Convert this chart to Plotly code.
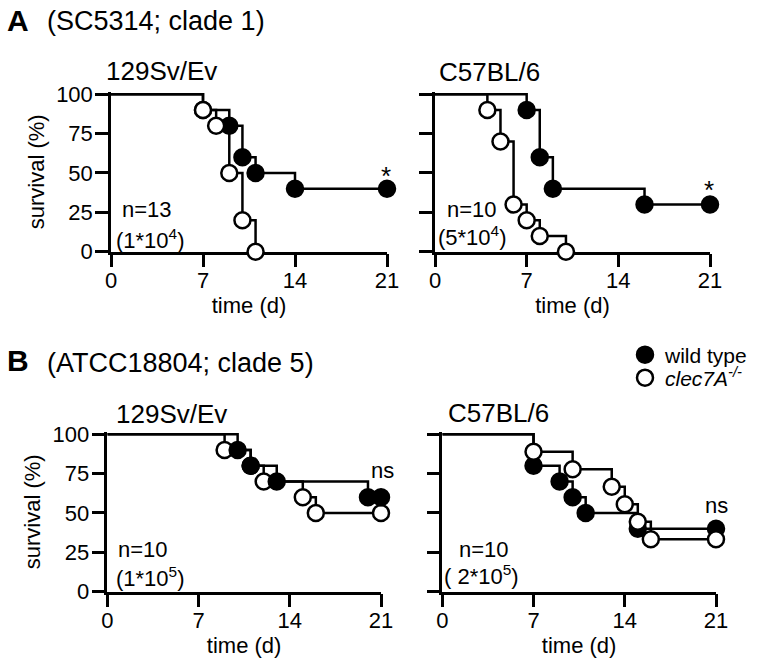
import plotly.graph_objects as go

W, H = 762, 665

# ---------------- data (Kaplan-Meier steps: day, % survival) ----------------
# Panel A (SC5314; clade 1)
a1_wt_days = [0, 7, 9, 10, 11, 14, 21]
a1_wt_surv = [100, 90, 80, 60, 50, 40, 40]
a1_ko_days = [0, 7, 8, 9, 10, 11]
a1_ko_surv = [100, 90, 80, 50, 20, 0]

a2_wt_days = [0, 7, 8, 9, 16, 21]
a2_wt_surv = [100, 90, 60, 40, 30, 30]
a2_ko_days = [0, 4, 5, 6, 7, 8, 10]
a2_ko_surv = [100, 90, 70, 30, 20, 10, 0]

# Panel B (ATCC18804; clade 5)
b1_wt_days = [0, 10, 11, 13, 20, 21]
b1_wt_surv = [100, 90, 80, 70, 60, 60]
b1_ko_days = [0, 9, 11, 12, 15, 16, 21]
b1_ko_surv = [100, 90, 80, 70, 60, 50, 50]

b2_wt_days = [0, 7, 9, 10, 11, 15, 21]
b2_wt_surv = [100, 80, 70, 60, 50, 40, 40]
b2_ko_days = [0, 7, 10, 13, 14, 15, 16, 21]
b2_ko_surv = [100, 88.9, 77.8, 66.7, 55.6, 44.4, 33.3, 33.3]

x_ticks = [0, 7, 14, 21]
y_ticks = [0, 25, 50, 75, 100]

strain_left = "129Sv/Ev"
strain_right = "C57BL/6"
header_a = "(SC5314; clade 1)"
header_b = "(ATCC18804; clade 5)"
n_labels = ["n=13", "n=10", "n=10", "n=10"]
dose_labels = ["(1*10<sup>4</sup>)", "(5*10<sup>4</sup>)", "(1*10<sup>5</sup>)", "( 2*10<sup>5</sup>)"]
sig_labels = ["*", "*", "ns", "ns"]
wt_name = "wild type"
ko_name = "<i>clec7A<sup>-/-</sup></i>"

FONT = "Liberation Sans, Arial, sans-serif"
LW = 2.5
MS = 16


def fx(p):
    return p / W


def fy(p):
    return 1 - p / H


Y_TOP = 101.5  # small headroom so the 100 % line is not clipped


def ydom(p0, p100):
    per = (p0 - p100) / 100.0
    ptop = p0 - Y_TOP * per
    return [fy(p0), fy(ptop)]


panels = [
    # (axis suffix, x domain px, y px (0, 100), wt, ko, wt on top?)
    ("", (111, 387), (251.7, 94.3), (a1_wt_days, a1_wt_surv), (a1_ko_days, a1_ko_surv), False),
    ("2", (435, 710), (251.7, 94.3), (a2_wt_days, a2_wt_surv), (a2_ko_days, a2_ko_surv), False),
    ("3", (107.3, 381), (591.7, 434.3), (b1_wt_days, b1_wt_surv), (b1_ko_days, b1_ko_surv), True),
    ("4", (442.3, 716), (591.7, 434.3), (b2_wt_days, b2_wt_surv), (b2_ko_days, b2_ko_surv), False),
]

fig = go.Figure()

for i, (sfx, xd, yd, wt, ko, wt_top) in enumerate(panels):
    xa = "x" + sfx
    ya = "y" + sfx

    def add_series(days, surv, filled, name, show, leg):
        fig.add_trace(go.Scatter(
            x=days, y=surv, mode="lines", line=dict(color="black", width=LW, shape="hv"),
            xaxis=xa, yaxis=ya, showlegend=False, hoverinfo="skip"))
        fig.add_trace(go.Scatter(
            x=days[1:], y=surv[1:], mode="markers", name=name,
            marker=dict(symbol="circle", size=MS,
                        color="black" if filled else "white",
                        line=dict(color="black", width=LW)),
            xaxis=xa, yaxis=ya, cliponaxis=False, showlegend=show,
            legendgroup=name, legend=leg))

    series = [(wt, True, wt_name, "legend"), (ko, False, ko_name, "legend2")]
    if wt_top:
        series = series[::-1]
    for (d, s), filled, name, leg in series:
        add_series(d, s, filled, name, i == 0, leg)

common = dict(showline=True, linecolor="black", linewidth=LW, ticks="outside",
              ticklen=13, tickwidth=LW, tickcolor="black", showgrid=False,
              zeroline=False, layer="below traces", automargin=False,
              tickfont=dict(size=22, color="black", family=FONT))

layout_axes = {}
for i, (sfx, xd, yd, wt, ko, wt_top) in enumerate(panels):
    left = i in (0, 2)
    layout_axes["xaxis" + sfx] = dict(
        common, domain=[fx(xd[0]), fx(xd[1])], range=[0, 21], tickvals=x_ticks,
        anchor="y" + sfx, ticklabelstandoff=-6,
        title=dict(text="time (d)", font=dict(size=22, color="black", family=FONT), standoff=2))
    layout_axes["yaxis" + sfx] = dict(
        common, domain=ydom(yd[0], yd[1]), range=[0, Y_TOP], tickvals=y_ticks,
        anchor="x" + sfx, showticklabels=left, ticklabelstandoff=-2,
        title=dict(text="survival (%)" if left else "",
                   font=dict(size=22, color="black", family=FONT), standoff=6))

ann = []


def txt(x, y, s, size=22, xanchor="center", bold=False):
    ann.append(dict(x=fx(x), y=fy(y), xref="paper", yref="paper", text=("<b>%s</b>" % s) if bold else s,
                    showarrow=False, xanchor=xanchor, yanchor="middle",
                    font=dict(size=size, color="black", family=FONT)))


# panel letters and headers
txt(5, 20, "A", size=30, xanchor="left", bold=True)
txt(45, 21, header_a, size=27, xanchor="left")
txt(5, 360, "B", size=30, xanchor="left", bold=True)
txt(45, 363, header_b, size=27, xanchor="left")

# strain subtitles
txt(104, 71, strain_left, size=26, xanchor="left")
txt(437, 72, strain_right, size=26, xanchor="left")
txt(114, 414, strain_left, size=26, xanchor="left")
txt(446, 413, strain_right, size=26, xanchor="left")

# n / inoculum labels
n_pos = [(147, 209), (472, 209), (143, 549), (484, 549)]
d_pos = [(150, 239), (472, 236), (150, 577), (482, 575)]
for (x, y), s in zip(n_pos, n_labels):
    txt(x, y, s)
for (x, y), s in zip(d_pos, dose_labels):
    txt(x, y, s)

# significance marks
sig_pos = [(386, 176), (709, 190), (382, 470), (716, 505)]
for (x, y), s in zip(sig_pos, sig_labels):
    txt(x, y, s, size=26 if s == "*" else 22)

leg_common = dict(xanchor="left", yanchor="middle",
                  font=dict(size=21, color="black", family=FONT),
                  bgcolor="rgba(0,0,0,0)", itemsizing="trace", borderwidth=0)

fig.update_layout(
    width=W, height=H, margin=dict(l=0, r=0, t=0, b=0, autoexpand=False),
    paper_bgcolor="white", plot_bgcolor="white",
    font=dict(family=FONT, color="black"),
    annotations=ann,
    legend=dict(leg_common, x=fx(625), y=fy(355)),
    legend2=dict(leg_common, x=fx(625), y=fy(378)),
    **layout_axes,
)

fig.write_html("out.html", config={"displayModeBar": False},
               post_script="document.body.style.margin='0';document.body.style.overflow='hidden';")
